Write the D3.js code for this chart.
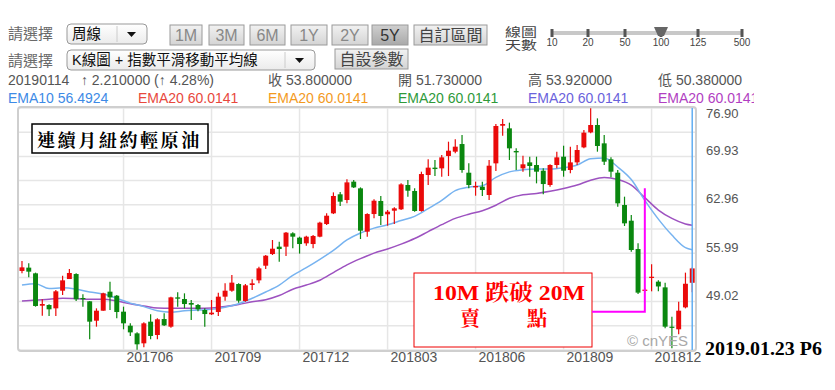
<!DOCTYPE html>
<html>
<head>
<meta charset="utf-8">
<script src="https://cdn.jsdelivr.net/npm/d3@7"></script>
<style>
body { margin: 0; background: #fff; }
svg text { font-family: "Liberation Sans", Arial, "Noto Sans CJK TC", sans-serif; }
</style>
</head>
<body>
<div id="chart"></div>
<script>
// Weekly K-line data, 100 weeks ending 2019-01-14
var opens = [53.43, 53.91, 53.09, 48.43, 48.53, 48.05, 50.59, 52.27, 52.99, 49.54,
    49.06, 46.27, 47.71, 50.45, 49.87, 47.57, 45.55, 44.45, 43.01, 46.13,
    44.21, 46.51, 45.41, 49.63, 49.39, 48.82, 48.53, 47.81, 47.19, 47.52,
    49.73, 50.59, 51.55, 49.11, 51.41, 52.08, 54.19, 55.87, 56.93, 56.93,
    58.85, 58.23, 57.41, 57.31, 58.37, 60.19, 61.73, 64.47, 63.65, 66.29,
    65.33, 59.09, 61.63, 63.51, 61.59, 62.11, 62.31, 65.81, 64.95, 62.07,
    67.25, 68.31, 68.21, 69.99, 70.61, 71.71, 67.58, 65.47, 65.57, 64.37,
    68.93, 74.35, 73.97, 70.71, 68.21, 69.07, 68.69, 67.87, 65.81, 68.69,
    69.89, 67.97, 69.07, 71.23, 73.39, 74.45, 71.81, 69.51, 67.58, 62.93,
    60.67, 56.59, 50.59, 52.45, 51.89, 51.07, 45.41, 45.03, 48.19, 51.73];
var highs = [54.87, 54.53, 53.19, 49.35, 48.63, 50.69, 52.75, 53.71, 53.09, 50.07,
    49.11, 48.05, 50.31, 51.89, 49.97, 48.29, 45.89, 44.59, 46.03, 47.19,
    46.61, 47.33, 49.73, 50.35, 50.21, 49.25, 48.67, 48.05, 49.25, 50.31,
    51.65, 52.85, 51.65, 51.55, 52.23, 54.05, 55.73, 57.89, 57.65, 59.05,
    59.00, 58.37, 58.51, 58.61, 60.53, 61.73, 64.75, 64.80, 66.63, 66.53,
    65.47, 61.73, 63.75, 64.23, 62.21, 62.59, 66.05, 66.53, 65.33, 67.73,
    69.51, 69.41, 70.13, 72.05, 72.39, 73.01, 68.93, 66.29, 66.29, 69.41,
    74.59, 75.31, 74.79, 71.09, 70.03, 69.89, 69.89, 68.21, 68.79, 70.61,
    71.47, 71.33, 71.57, 73.73, 76.85, 75.41, 73.01, 69.79, 67.97, 64.13,
    61.49, 57.41, 50.93, 54.40, 52.10, 51.75, 46.85, 49.01, 53.19, 53.92];
var lows = [53.09, 52.51, 48.29, 46.99, 46.95, 46.95, 49.97, 52.27, 49.11, 48.29,
    43.59, 45.41, 47.71, 47.81, 46.61, 45.03, 44.07, 42.10, 42.43, 43.59,
    43.59, 45.51, 45.27, 48.29, 48.05, 46.37, 47.62, 45.41, 47.09, 46.95,
    49.15, 50.45, 48.87, 49.01, 50.69, 51.65, 53.71, 55.73, 54.77, 55.59,
    56.69, 55.93, 57.07, 56.69, 58.27, 60.05, 61.63, 62.79, 63.17, 65.38,
    58.03, 58.37, 61.01, 60.05, 59.95, 60.19, 62.21, 64.13, 61.97, 61.97,
    65.81, 67.10, 67.01, 67.10, 70.37, 67.58, 65.33, 64.27, 64.23, 63.65,
    67.82, 72.91, 69.41, 67.97, 67.73, 67.01, 66.05, 64.47, 65.57, 68.21,
    67.01, 67.49, 68.69, 71.09, 73.25, 70.61, 68.69, 66.91, 62.69, 59.91,
    56.21, 50.11, 50.50, 50.50, 50.50, 45.17, 42.29, 44.31, 48.05, 50.38];
var closes = [53.95, 53.33, 48.39, 48.67, 47.91, 50.50, 52.08, 53.14, 49.35, 49.40,
    46.13, 47.71, 50.21, 49.63, 47.52, 45.89, 44.59, 42.87, 45.89, 44.07,
    46.47, 45.60, 49.63, 49.44, 48.67, 48.58, 47.91, 47.23, 47.43, 49.73,
    50.59, 51.75, 49.15, 51.36, 51.65, 53.81, 55.63, 56.64, 56.59, 58.95,
    58.37, 57.31, 58.37, 58.47, 60.39, 61.39, 64.23, 63.41, 66.19, 65.47,
    59.23, 61.63, 63.55, 61.35, 61.97, 62.45, 65.90, 64.99, 62.07, 67.39,
    68.31, 68.11, 69.79, 70.75, 71.33, 67.97, 65.81, 65.67, 65.09, 68.59,
    74.31, 74.59, 71.09, 70.51, 68.79, 68.55, 67.73, 65.95, 68.69, 69.79,
    67.87, 69.07, 70.85, 73.35, 74.45, 71.43, 69.17, 67.73, 63.17, 60.29,
    56.45, 50.31, 50.74, 52.60, 51.20, 45.41, 45.27, 47.71, 51.59, 53.80];

// EMA lines, read at every second week
var emaWeeks = [0, 2, 4, 6, 8, 10, 12, 14, 16, 18, 20, 22, 24, 26, 28, 30, 32, 34, 36, 38,
    40, 42, 44, 46, 48, 50, 52, 54, 56, 58, 60, 62, 64, 66, 68, 70, 72, 74, 76, 78,
    80, 82, 84, 86, 88, 90, 92, 94, 96, 98, 99];
var ema10 = [51.4, 51.6, 50.9, 51.0, 50.8, 50.4, 50.1, 49.5, 48.8, 48.3, 47.7, 47.5, 47.7, 47.8, 47.9, 48.2, 48.7, 49.5, 50.4, 51.4,
    52.8, 53.9, 55.1, 56.4, 57.9, 58.9, 59.6, 60.1, 60.7, 61.3, 62.4, 63.6, 65.0, 65.5, 65.7, 66.9, 67.7, 68.0, 68.1, 68.1,
    68.3, 68.7, 69.6, 69.7, 68.4, 66.6, 63.6, 60.9, 58.6, 56.8, 56.49];
var ema20 = [49.1, 49.25, 49.35, 49.5, 49.45, 49.35, 49.35, 49.1, 48.7, 48.4, 48.1, 48.05, 48.05, 48.05, 48.1, 48.3, 48.6, 49.0, 49.3, 49.9,
    50.8, 51.4, 52.1, 53.2, 54.3, 55.2, 56.0, 56.6, 57.3, 58.1, 59.1, 60.1, 61.0, 61.6, 62.1, 62.9, 63.9, 64.4, 64.6, 64.9,
    65.3, 65.8, 66.5, 66.9, 66.6, 65.8, 64.0, 62.2, 61.0, 60.2, 60.01];

// axis labels
var xTickLabels = ["201706", "201709", "201712", "201803", "201806", "201809", "201812"];
var yTickLabels = [49.02, 55.99, 62.96, 69.93, 76.90];

// weekly dates (Mondays) for the 100 candles
var dates = d3.timeMonday.range(new Date(2017, 1, 20), new Date(2019, 0, 15));

var fmtMonth = d3.timeFormat("%Y%m");

var svg = d3.select("#chart")
    .append("svg")
    .attr("width", 835)
    .attr("height", 390);

// ---------- toolbar ----------
var grad = svg.append("defs").append("linearGradient")
    .attr("id", "btn").attr("x1", 0).attr("y1", 0).attr("x2", 0).attr("y2", 1);
grad.append("stop").attr("offset", "0%").attr("stop-color", "#f2f2f2");
grad.append("stop").attr("offset", "100%").attr("stop-color", "#d4d4d4");
var grad2 = svg.select("defs").append("linearGradient")
    .attr("id", "btnOn").attr("x1", 0).attr("y1", 0).attr("x2", 0).attr("y2", 1);
grad2.append("stop").attr("offset", "0%").attr("stop-color", "#cfcfcf");
grad2.append("stop").attr("offset", "100%").attr("stop-color", "#a9a9a9");
var grad3 = svg.select("defs").append("linearGradient")
    .attr("id", "sel").attr("x1", 0).attr("y1", 0).attr("x2", 0).attr("y2", 1);
grad3.append("stop").attr("offset", "0%").attr("stop-color", "#ffffff");
grad3.append("stop").attr("offset", "100%").attr("stop-color", "#ebebeb");

svg.append("text").attr("x", 8).attr("y", 39).attr("font-size", 15).attr("fill", "#6a6a6a").text("請選擇");
svg.append("text").attr("x", 8).attr("y", 66).attr("font-size", 15).attr("fill", "#6a6a6a").text("請選擇");

// select boxes
function selectBox(x0, y0, w, label) {
    svg.append("rect").attr("x", x0).attr("y", y0).attr("width", w).attr("height", 20)
        .attr("rx", 4).attr("fill", "url(#sel)").attr("stroke", "#999");
    svg.append("line").attr("x1", x0 + w - 30).attr("x2", x0 + w - 30)
        .attr("y1", y0 + 2).attr("y2", y0 + 18).attr("stroke", "#ccc");
    svg.append("path")
        .attr("d", "M" + (x0 + w - 20) + "," + (y0 + 8) + "l9,0l-4.5,5z")
        .attr("fill", "#111");
    svg.append("text").attr("x", x0 + 5).attr("y", y0 + 15).attr("font-size", 14.5)
        .attr("fill", "#111").text(label);
}
selectBox(67, 24, 80, "周線");
selectBox(67, 50, 248, "K線圖 + 指數平滑移動平均線");

// range buttons
var buttons = [
    { t: "1M", x: 170, w: 32 }, { t: "3M", x: 209, w: 35 }, { t: "6M", x: 250, w: 35 },
    { t: "1Y", x: 291, w: 36 }, { t: "2Y", x: 332, w: 36 }, { t: "5Y", x: 372, w: 36, on: true },
    { t: "自訂區間", x: 414, w: 73 }, { t: "自設參數", x: 335, w: 73, y: 49 }
];
buttons.forEach(function(b) {
    var by = b.y || 25;
    svg.append("rect").attr("x", b.x).attr("y", by).attr("width", b.w).attr("height", 20)
        .attr("fill", b.on ? "url(#btnOn)" : "url(#btn)")
        .attr("stroke", "#9a9a9a").attr("stroke-width", 1);
    svg.append("text").attr("x", b.x + b.w / 2).attr("y", by + 15.5)
        .attr("text-anchor", "middle").attr("font-size", 16)
        .attr("fill", b.on ? "#333" : (b.t.length > 2 ? "#444" : "#888")).text(b.t);
});

// day-count slider
svg.append("text").attr("x", 505).attr("y", 37).attr("font-size", 12).attr("fill", "#444")
    .attr("textLength", 32).attr("lengthAdjust", "spacingAndGlyphs").text("線圖");
svg.append("text").attr("x", 505).attr("y", 50).attr("font-size", 12).attr("fill", "#444")
    .attr("textLength", 32).attr("lengthAdjust", "spacingAndGlyphs").text("天數");
var sliderStops = ["10", "20", "50", "100", "125", "500"];
var sliderX = [552, 588, 625, 661, 698, 742];
svg.append("line").attr("x1", 552).attr("x2", 742).attr("y1", 33).attr("y2", 33)
    .attr("stroke", "#c8c8c8").attr("stroke-width", 4);
sliderStops.forEach(function(s, i) {
    svg.append("rect").attr("x", sliderX[i] - 1.5).attr("y", 29).attr("width", 3).attr("height", 8).attr("fill", "#555");
    svg.append("text").attr("x", sliderX[i]).attr("y", 46).attr("text-anchor", "middle")
        .attr("font-size", 10).attr("fill", "#444").text(s);
});
svg.append("path").attr("d", "M654,27L668,27L664,36L658,36Z").attr("fill", "#666");

// quote line
svg.append("text").attr("x", 8).attr("y", 85).attr("font-size", 14).attr("fill", "#555")
    .attr("xml:space", "preserve").text("20190114   ↑ 2.210000 (↑ 4.28%)");
var quotes = [["收 53.800000", 268], ["開 51.730000", 398], ["高 53.920000", 528], ["低 50.380000", 658]];
quotes.forEach(function(q) {
    svg.append("text").attr("x", q[1]).attr("y", 85).attr("font-size", 14).attr("fill", "#555").text(q[0]);
});

// legend line
svg.append("clipPath").attr("id", "legClip").append("rect").attr("x", 0).attr("y", 85).attr("width", 754).attr("height", 25);
var legend = [["EMA10 56.4924", "#3d8ae6"], ["EMA20 60.0141", "#e8483c"], ["EMA20 60.0141", "#f39a1e"],
    ["EMA20 60.0141", "#2f9a3a"], ["EMA20 60.0141", "#6a62dc"], ["EMA20 60.0141", "#b13ec2"]];
var legG = svg.append("g").attr("clip-path", "url(#legClip)");
legend.forEach(function(l, i) {
    legG.append("text").attr("x", 8 + i * 130).attr("y", 103).attr("font-size", 14)
        .attr("fill", l[1]).text(l[0]);
});

// ---------- price chart ----------
var x = d3.scaleBand()
    .domain(d3.range(opens.length))
    .range([18.6, 695.6])
    .paddingInner(0.27)
    .paddingOuter(0.135);
var y = d3.scaleLinear()
    .domain([42.05, 76.90])
    .range([350, 108]);
var cx = function(i) { return x(i) + x.bandwidth() / 2; };

var plot = svg.append("g");

// horizontal grid every half label step
var gridVals = d3.range(0, 11).map(function(k) { return 42.05 + k * 3.485; });
plot.selectAll("line.hgrid").data(gridVals).enter().append("line")
    .attr("class", "hgrid")
    .attr("x1", 19).attr("x2", 695)
    .attr("y1", function(d) { return y(d); }).attr("y2", function(d) { return y(d); })
    .attr("stroke", "#e6e6e6").attr("stroke-width", 1.5);

// vertical grid at first week of each quarter month
var tickIdx = xTickLabels.map(function(l) {
    return dates.findIndex(function(d) { return fmtMonth(d) === l; });
});
plot.selectAll("line.vgrid").data(tickIdx).enter().append("line")
    .attr("class", "vgrid")
    .attr("x1", function(d) { return cx(d); }).attr("x2", function(d) { return cx(d); })
    .attr("y1", 108).attr("y2", 350)
    .attr("stroke", "#e6e6e6").attr("stroke-width", 1.5);

// frame
plot.append("rect").attr("x", 18).attr("y", 107).attr("width", 678).attr("height", 244)
    .attr("rx", 3).attr("fill", "none").attr("stroke", "#cfcfcf").attr("stroke-width", 2);

// y labels
svg.selectAll("text.ylab").data(yTickLabels).enter().append("text")
    .attr("class", "ylab")
    .attr("x", 706)
    .attr("y", function(d) { return d === 76.90 ? y(d) + 10 : y(d) - 1.5; })
    .attr("font-size", 13).attr("fill", "#555")
    .text(function(d) { return d.toFixed(2); });

// x labels
svg.selectAll("text.xlab").data(tickIdx).enter().append("text")
    .attr("class", "xlab")
    .attr("x", function(d) { return cx(d) + 3; })
    .attr("y", 362)
    .attr("font-size", 14).attr("fill", "#555")
    .text(function(d, i) { return xTickLabels[i]; });

// EMA lines
var line = d3.line()
    .x(function(d) { return cx(d[0]); })
    .y(function(d) { return y(d[1]); })
    .curve(d3.curveMonotoneX);
plot.append("path").datum(d3.zip(emaWeeks, ema20))
    .attr("d", line).attr("fill", "none").attr("stroke", "#9d52c0").attr("stroke-width", 1.5);
plot.append("path").datum(d3.zip(emaWeeks, ema10))
    .attr("d", line).attr("fill", "none").attr("stroke", "#77b3f0").attr("stroke-width", 1.5);

// candles
var candles = d3.range(opens.length).map(function(i) {
    return { i: i, o: opens[i], h: highs[i], l: lows[i], c: closes[i] };
});
var colorOf = function(d) { return d.c >= d.o ? "#ea0a0a" : "#0a870f"; };
var cg = plot.selectAll("g.candle").data(candles).enter().append("g").attr("class", "candle");
cg.append("line")
    .attr("x1", function(d) { return cx(d.i); }).attr("x2", function(d) { return cx(d.i); })
    .attr("y1", function(d) { return y(d.h); }).attr("y2", function(d) { return y(d.l); })
    .attr("stroke", colorOf).attr("stroke-width", 1.2);
cg.append("rect")
    .attr("x", function(d) { return x(d.i); })
    .attr("width", x.bandwidth())
    .attr("y", function(d) { return y(Math.max(d.o, d.c)); })
    .attr("height", function(d) { return Math.max(1.2, Math.abs(y(d.o) - y(d.c))); })
    .attr("fill", colorOf);

// crosshair on last week
plot.append("line")
    .attr("x1", cx(opens.length - 1)).attr("x2", cx(opens.length - 1))
    .attr("y1", 108).attr("y2", 350)
    .attr("stroke", "#62aef2").attr("stroke-width", 1.5);

// watermark
plot.append("text").attr("x", 627).attr("y", 346).attr("font-size", 15).attr("fill", "#a8a8a8").text("© cnYES");

// title box
svg.append("rect").attr("x", 32).attr("y", 124).attr("width", 176).attr("height", 29)
    .attr("fill", "#fff").attr("stroke", "#000").attr("stroke-width", 1.5);
svg.append("text").attr("x", 37).attr("y", 147)
    .attr("font-size", 18).attr("font-weight", "bold").attr("letter-spacing", 2.6)
    .style("font-family", "'Noto Serif CJK TC', 'Noto Sans CJK TC', serif")
    .attr("fill", "#000").text("連續月紐約輕原油");

// annotation: 10M crosses below 20M
svg.append("rect").attr("x", 414).attr("y", 273).attr("width", 178).attr("height", 74)
    .attr("fill", "#fff").attr("stroke", "#e00").attr("stroke-width", 1);
svg.append("text").attr("x", 433).attr("y", 300)
    .attr("font-size", 22).attr("font-weight", "bold").attr("fill", "#f00")
    .attr("textLength", 152).attr("lengthAdjust", "spacingAndGlyphs")
    .style("font-family", "'Liberation Serif', 'Noto Serif CJK TC', serif")
    .attr("xml:space", "preserve").text("10M 跌破 20M");
svg.append("text").attr("x", 470).attr("y", 326).attr("text-anchor", "middle")
    .attr("font-size", 20).attr("font-weight", "bold").attr("fill", "#f00")
    .style("font-family", "'Noto Serif CJK TC', serif").text("賣");
svg.append("text").attr("x", 537).attr("y", 326).attr("text-anchor", "middle")
    .attr("font-size", 20).attr("font-weight", "bold").attr("fill", "#f00")
    .style("font-family", "'Noto Serif CJK TC', serif").text("點");
svg.append("path")
    .attr("d", "M592," + y(47.57) + "L" + cx(92) + "," + y(47.57) + "L" + cx(92) + "," + y(65.35))
    .attr("fill", "none").attr("stroke", "#ff00ff").attr("stroke-width", 2);

// date stamp
svg.append("text").attr("x", 705).attr("y", 355)
    .attr("font-size", 18).attr("font-weight", "bold").attr("fill", "#000")
    .attr("textLength", 117).attr("lengthAdjust", "spacingAndGlyphs")
    .style("font-family", "'Liberation Serif', serif")
    .text("2019.01.23 P6");
</script>
</body>
</html>
